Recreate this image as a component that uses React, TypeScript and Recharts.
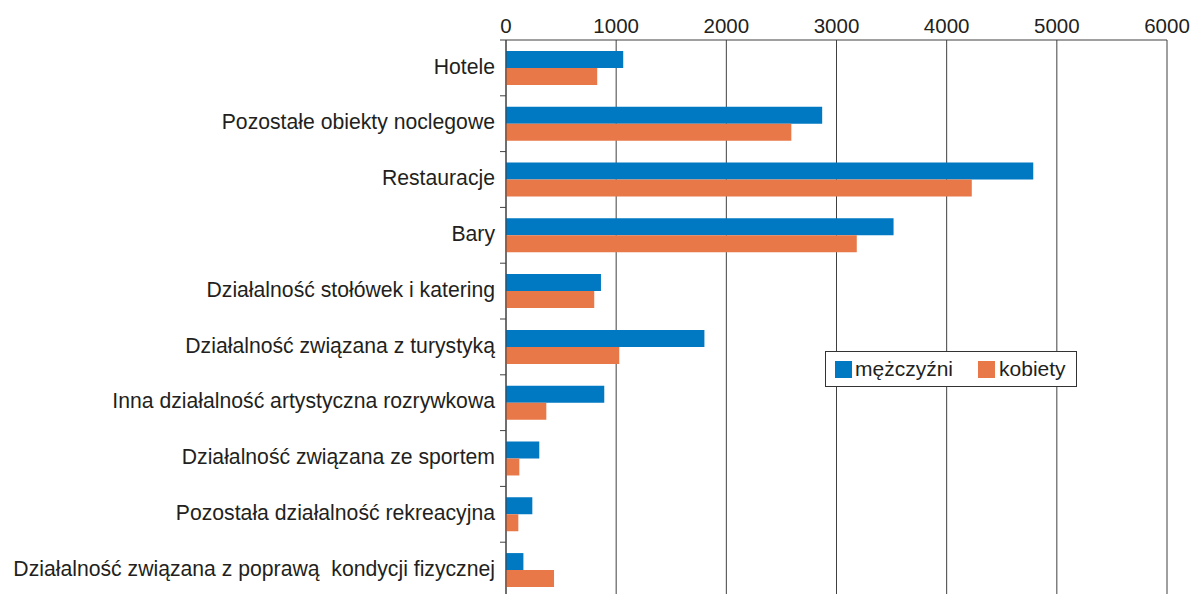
import { BarChart, Bar, XAxis, YAxis, CartesianGrid, Legend } from "recharts";

const categories = [
  "Hotele",
  "Pozostałe obiekty noclegowe",
  "Restauracje",
  "Bary",
  "Działalność stołówek i katering",
  "Działalność związana z turystyką",
  "Inna działalność artystyczna rozrywkowa",
  "Działalność związana ze sportem",
  "Pozostała działalność rekreacyjna",
  "Działalność związana z poprawą  kondycji fizycznej",
];
const men = [1064, 2870, 4786, 3518, 862, 1801, 892, 302, 239, 158];
const women = [828, 2590, 4228, 3184, 801, 1028, 366, 121, 112, 436];
const xTicks = [0, 1000, 2000, 3000, 4000, 5000, 6000];

const data = categories.map((name, i) => ({ name, men: men[i], women: women[i] }));

const BLUE = "#0079C2";
const ORANGE = "#E87848";
const AXIS = "#404040";
const TEXT = "#231F20";
const FONT = '"Liberation Sans", Arial, sans-serif';

const PLOT_TOP = 40;
const PLOT_BOTTOM = 598;
const BAND = (PLOT_BOTTOM - PLOT_TOP) / categories.length;

const CategoryTick = (props: any) => {
  const { x, y, payload } = props;
  return (
    <g>
      <line x1={x + 5} x2={x + 11} y1={y - BAND / 2} y2={y - BAND / 2} stroke={AXIS} strokeWidth={1} />
      <text
        x={x}
        y={y}
        dy="0.27em"
        textAnchor="end"
        fill={TEXT}
        fontSize={21.2}
        fontFamily={FONT}
        style={{ whiteSpace: "pre" }}
      >
        {payload.value}
      </text>
    </g>
  );
};

const LegendBox = () => (
  <div
    style={{
      border: "1px solid #333",
      width: 250,
      height: 34,
      display: "flex",
      alignItems: "center",
      fontFamily: FONT,
      fontSize: 21,
      color: TEXT,
      background: "#fff",
      boxSizing: "content-box",
    }}
  >
    <span style={{ width: 17, height: 17, background: BLUE, marginLeft: 9, marginRight: 3 }} />
    <span>mężczyźni</span>
    <span style={{ width: 17, height: 17, background: ORANGE, marginLeft: 25, marginRight: 4 }} />
    <span>kobiety</span>
  </div>
);

const App = () => {
  return (
    <div style={{ position: "absolute", left: 0, top: 0, background: "#fff" }}>
      <BarChart
        width={1192}
        height={620}
        data={data}
        layout="vertical"
        margin={{ top: 0, right: 25, bottom: 620 - PLOT_BOTTOM, left: 0 }}
        barCategoryGap="19.5%"
        barGap={0}
      >
        <CartesianGrid horizontal={false} stroke={AXIS} strokeWidth={1} />
        <XAxis
          type="number"
          orientation="top"
          domain={[0, 6000]}
          ticks={xTicks}
          height={PLOT_TOP}
          tickLine={false}
          tickMargin={1}
          axisLine={{ stroke: AXIS }}
          tick={{ fill: TEXT, fontSize: 20.5, fontFamily: FONT }}
          interval={0}
        />
        <YAxis
          type="category"
          dataKey="name"
          width={506}
          tickLine={false}
          tickSize={6}
          tickMargin={5}
          axisLine={{ stroke: AXIS }}
          tick={<CategoryTick />}
          interval={0}
        />
        <Legend
          layout="horizontal"
          verticalAlign="middle"
          align="center"
          content={() => <LegendBox />}
          wrapperStyle={{ left: 825, top: 351, width: 252 }}
        />
        <Bar dataKey="men" name="mężczyźni" fill={BLUE} isAnimationActive={false} />
        <Bar dataKey="women" name="kobiety" fill={ORANGE} isAnimationActive={false} />
      </BarChart>
    </div>
  );
};

export default App;
